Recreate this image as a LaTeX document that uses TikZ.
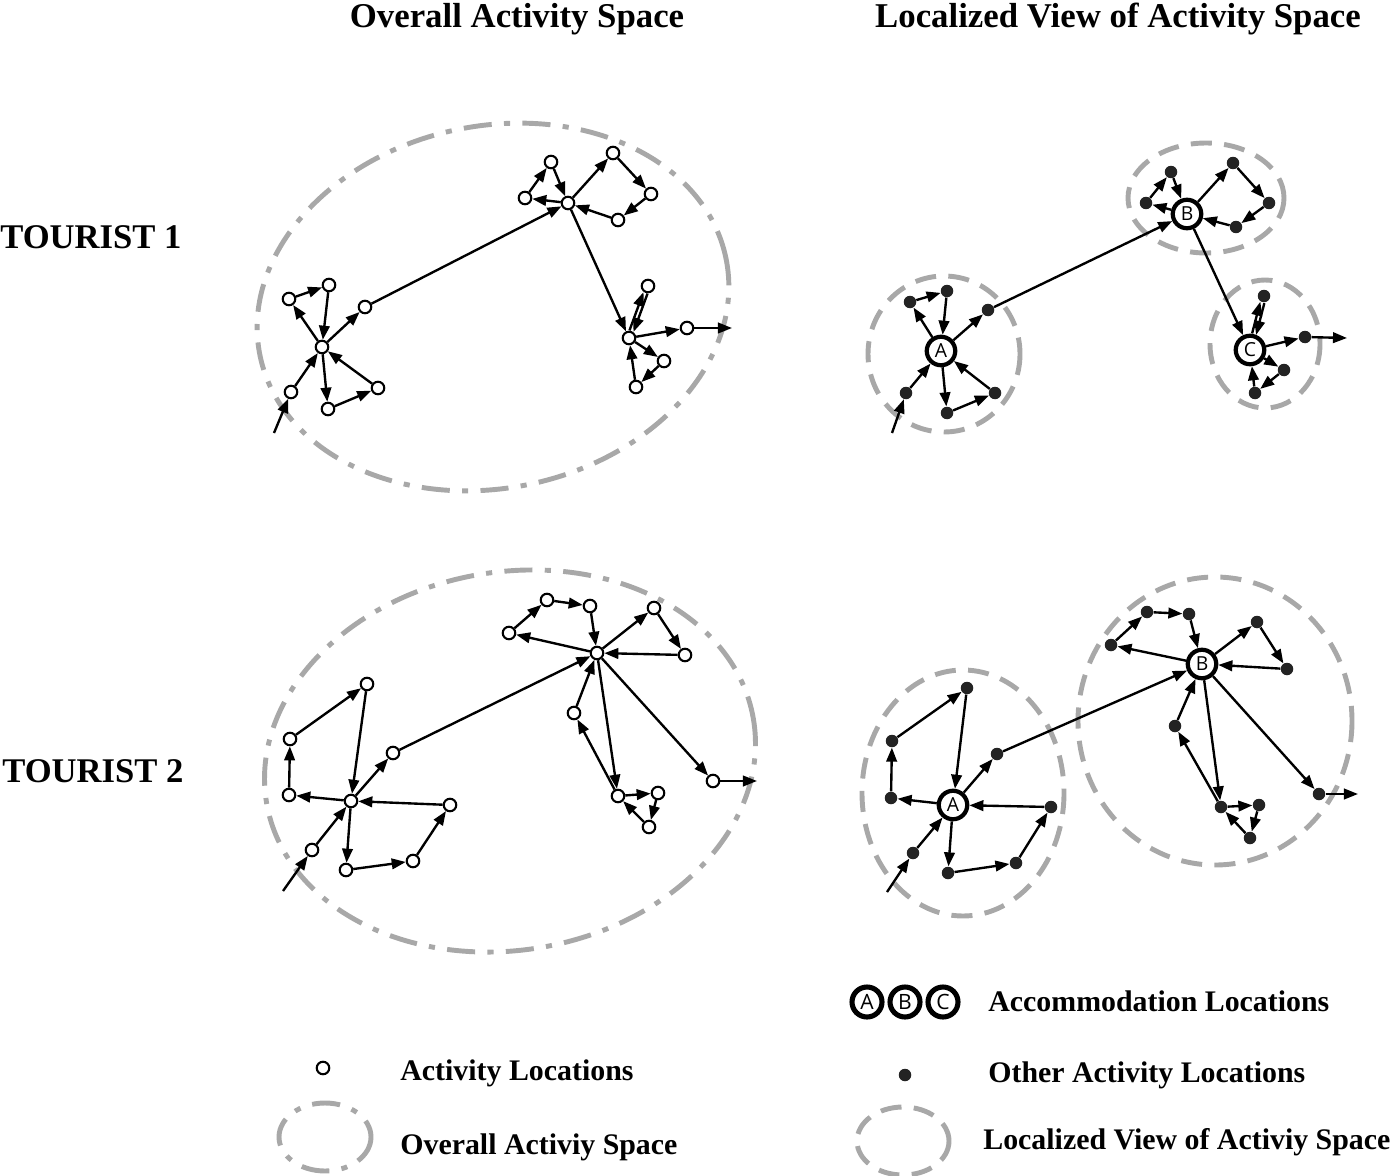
\documentclass[tikz,border=0pt]{standalone}
\usepackage{fontspec}
\setmainfont{Liberation Serif}
\newfontfamily\letterfont{Open Sans}
\usetikzlibrary{arrows.meta}
\definecolor{spgray}{RGB}{168,168,168}
\definecolor{dotgray}{RGB}{35,35,35}
\begin{document}
\begin{tikzpicture}[x=0.02cm,y=-0.02cm,
 act/.style={circle,draw,line width=1.2pt,fill=white,minimum size=0.25cm,inner sep=0},
 oth/.style={circle,fill=dotgray,minimum size=0.25cm,inner sep=0},
 acc/.style={circle,draw,line width=2.4pt,fill=white,minimum size=0.57cm,inner sep=0,font=\letterfont\fontsize{11}{11}\selectfont},
 legacc/.style={acc,line width=2.9pt,minimum size=0.6cm,font=\letterfont\fontsize{12}{12}\selectfont},
 arr/.style={line width=1.35pt,-{Triangle[length=8pt,width=6pt]}},
 ovsp/.style={draw=spgray,line width=2.8pt,dash pattern=on 16pt off 7pt on 3.5pt off 7pt},
 locsp/.style={draw=spgray,line width=2.8pt,dash pattern=on 12pt off 7pt},
 title/.style={font=\bfseries\fontsize{19.8}{20}\selectfont,inner sep=0,anchor=base},
 tour/.style={font=\bfseries\fontsize{19.7}{20}\selectfont,inner sep=0,anchor=base west},
 legtxt/.style={font=\bfseries\fontsize{17}{17}\selectfont,inner sep=0,anchor=base west}]
\useasboundingbox (0,0) rectangle (1393,1176);

% titles
\node[title] (t1) at (517,28) {Overall Activity Space};
\node[title] (t2) at (1118,28) {Localized View of Activity Space};
\node[tour] (tr1) at (0,248) {TOURIST 1};
\node[tour] (tr2) at (2,782) {TOURIST 2};

% activity spaces
\draw[ovsp,rotate around={12:(493,307)}] (493,307) ellipse [x radius=238, y radius=181];
\draw[ovsp,rotate around={10:(510,761)}] (510,761) ellipse [x radius=247, y radius=189];
\draw[locsp] (944,354) ellipse [x radius=76, y radius=78];
\draw[locsp] (1206,198) ellipse [x radius=78, y radius=55];
\draw[locsp] (1265,344) ellipse [x radius=55, y radius=64];
\draw[locsp] (963,793) ellipse [x radius=101, y radius=123];
\draw[locsp] (1215,721) ellipse [x radius=137, y radius=144];

% ===== Tourist 1 overall =====
\node[act] (o1X) at (322,347) {};
\node[act] (o1n1) at (289,299) {};
\node[act] (o1n2) at (329,285) {};
\node[act] (o1n3) at (365,307) {};
\node[act] (o1n4) at (378,388) {};
\node[act] (o1n5) at (328,409) {};
\node[act] (o1n6) at (291,392) {};
\coordinate (o1s) at (274,433);
\node[act] (o1Y) at (568,203) {};
\node[act] (o1a1) at (525,198) {};
\node[act] (o1a2) at (551,162) {};
\node[act] (o1b1) at (613,153) {};
\node[act] (o1b2) at (651,194) {};
\node[act] (o1b3) at (618,220) {};
\node[act] (o1Z) at (629,338) {};
\node[act] (o1c1) at (648,286) {};
\node[act] (o1c2) at (687,328) {};
\node[act] (o1c3) at (664,361) {};
\node[act] (o1c4) at (636,387) {};
\coordinate (o1e) at (732,328);
\foreach \a/\b in {o1n1/o1n2,o1n2/o1X,o1X/o1n1,o1X/o1n3,o1n3/o1Y,o1X/o1n5,o1n5/o1n4,o1n4/o1X,o1s/o1n6,o1n6/o1X,
  o1a2/o1Y,o1Y/o1a1,o1a1/o1a2,o1Y/o1b1,o1b1/o1b2,o1b2/o1b3,o1b3/o1Y,o1Y/o1Z,
  o1Z/o1c2,o1c2/o1e,o1Z/o1c3,o1c3/o1c4,o1c4/o1Z}
  \draw[arr] (\a) -- (\b);
\draw[arr,transform canvas={shift={(-2,-0.75)}}] (o1Z) -- (o1c1);
\draw[arr,transform canvas={shift={(2,0.75)}}] (o1c1) -- (o1Z);

% ===== Tourist 1 localized =====
\node[acc] (l1A) at (941,351) {A};
\node[oth] (l1d1) at (910,302) {};
\node[oth] (l1d2) at (947,291) {};
\node[oth] (l1d3) at (988,310) {};
\node[oth] (l1d4) at (995,393) {};
\node[oth] (l1d5) at (947,413) {};
\node[oth] (l1d6) at (906,393) {};
\coordinate (l1s) at (892,433);
\node[acc] (l1B) at (1187,214) {B};
\node[oth] (l1e1) at (1146,203) {};
\node[oth] (l1e2) at (1171,172) {};
\node[oth] (l1f1) at (1233,163) {};
\node[oth] (l1f2) at (1269,203) {};
\node[oth] (l1f3) at (1236,227) {};
\node[acc] (l1C) at (1250,350) {C};
\node[oth] (l1g1) at (1264,296) {};
\node[oth] (l1g2) at (1305,337) {};
\node[oth] (l1g3) at (1284,370) {};
\node[oth] (l1g4) at (1255,393) {};
\coordinate (l1e) at (1347,338);
\foreach \a/\b in {l1d1/l1d2,l1d2/l1A,l1A/l1d1,l1A/l1d3,l1d3/l1B,l1A/l1d5,l1d5/l1d4,l1d4/l1A,l1s/l1d6,l1d6/l1A,
  l1e2/l1B,l1B/l1e1,l1e1/l1e2,l1B/l1f1,l1f1/l1f2,l1f2/l1f3,l1f3/l1B,l1B/l1C,
  l1C/l1g2,l1g2/l1e,l1C/l1g3,l1g3/l1g4,l1g4/l1C}
  \draw[arr] (\a) -- (\b);
\draw[arr,transform canvas={shift={(-2,-0.75)}}] (l1C) -- (l1g1);
\draw[arr,transform canvas={shift={(2,0.75)}}] (l1g1) -- (l1C);

% ===== Tourist 2 overall =====
\node[act] (o2X) at (351,801) {};
\node[act] (o2p1) at (367,684) {};
\node[act] (o2p2) at (290,739) {};
\node[act] (o2p3) at (289,795) {};
\node[act] (o2p4) at (393,753) {};
\node[act] (o2p5) at (450,805) {};
\node[act] (o2p6) at (413,861) {};
\node[act] (o2p7) at (346,870) {};
\node[act] (o2p8) at (312,850) {};
\coordinate (o2s) at (283,891);
\node[act] (o2Y) at (597,653) {};
\node[act] (o2q1) at (509,633) {};
\node[act] (o2q2) at (547,600) {};
\node[act] (o2q3) at (590,606) {};
\node[act] (o2r1) at (654,608) {};
\node[act] (o2r2) at (685,655) {};
\node[act] (o2s1) at (574,713) {};
\node[act] (o2s2) at (618,796) {};
\node[act] (o2s3) at (658,793) {};
\node[act] (o2s4) at (649,827) {};
\node[act] (o2s5) at (713,781) {};
\coordinate (o2e) at (757,781);
\foreach \a/\b in {o2s/o2p8,o2p8/o2X,o2X/o2p3,o2p3/o2p2,o2p2/o2p1,o2p1/o2X,o2X/o2p4,o2p4/o2Y,o2X/o2p7,o2p7/o2p6,o2p6/o2p5,o2p5/o2X,
  o2Y/o2q1,o2q1/o2q2,o2q2/o2q3,o2q3/o2Y,o2Y/o2r1,o2r1/o2r2,o2r2/o2Y,o2s1/o2Y,o2Y/o2s2,o2s2/o2s1,o2s2/o2s3,o2s3/o2s4,o2s4/o2s2,o2Y/o2s5,o2s5/o2e}
  \draw[arr] (\a) -- (\b);

% ===== Tourist 2 localized =====
\node[acc] (l2A) at (953,805) {A};
\node[oth] (l2t1) at (967,688) {};
\node[oth] (l2t2) at (892,741) {};
\node[oth] (l2t3) at (891,798) {};
\node[oth] (l2t4) at (997,754) {};
\node[oth] (l2t5) at (1051,807) {};
\node[oth] (l2t6) at (1016,863) {};
\node[oth] (l2t7) at (948,873) {};
\node[oth] (l2t8) at (913,853) {};
\coordinate (l2s) at (887,892);
\node[acc] (l2B) at (1202,664) {B};
\node[oth] (l2u1) at (1111,645) {};
\node[oth] (l2u2) at (1147,612) {};
\node[oth] (l2u3) at (1189,614) {};
\node[oth] (l2v1) at (1257,622) {};
\node[oth] (l2v2) at (1287,669) {};
\node[oth] (l2w1) at (1175,726) {};
\node[oth] (l2w2) at (1221,807) {};
\node[oth] (l2w3) at (1259,805) {};
\node[oth] (l2w4) at (1250,838) {};
\node[oth] (l2w5) at (1319,794) {};
\coordinate (l2e) at (1358,794);
\foreach \a/\b in {l2s/l2t8,l2t8/l2A,l2A/l2t3,l2t3/l2t2,l2t2/l2t1,l2t1/l2A,l2A/l2t4,l2t4/l2B,l2A/l2t7,l2t7/l2t6,l2t6/l2t5,l2t5/l2A,
  l2B/l2u1,l2u1/l2u2,l2u2/l2u3,l2u3/l2B,l2B/l2v1,l2v1/l2v2,l2v2/l2B,l2w1/l2B,l2B/l2w2,l2w2/l2w1,l2w2/l2w3,l2w3/l2w4,l2w4/l2w2,l2B/l2w5,l2w5/l2e}
  \draw[arr] (\a) -- (\b);

% ===== Legend =====
\node[legacc] (lgA) at (867,1002) {A};
\node[legacc] (lgB) at (905,1002) {B};
\node[legacc] (lgC) at (943,1002) {C};
\node[legtxt] (lgt1) at (988,1011) {Accommodation Locations};
\node[act] (lgact) at (323,1068) {};
\node[legtxt] (lgt2) at (400,1080) {Activity Locations};
\node[oth] (lgoth) at (905,1075) {};
\node[legtxt] (lgt3) at (988,1082) {Other Activity Locations};
\draw[ovsp] (325,1137) ellipse [x radius=46, y radius=34];
\node[legtxt] (lgt4) at (400,1154) {Overall Activiy Space};
\draw[locsp] (903,1141) ellipse [x radius=46, y radius=34];
\node[legtxt] (lgt5) at (983,1149) {Localized View of Activiy Space};
\end{tikzpicture}
\end{document}
